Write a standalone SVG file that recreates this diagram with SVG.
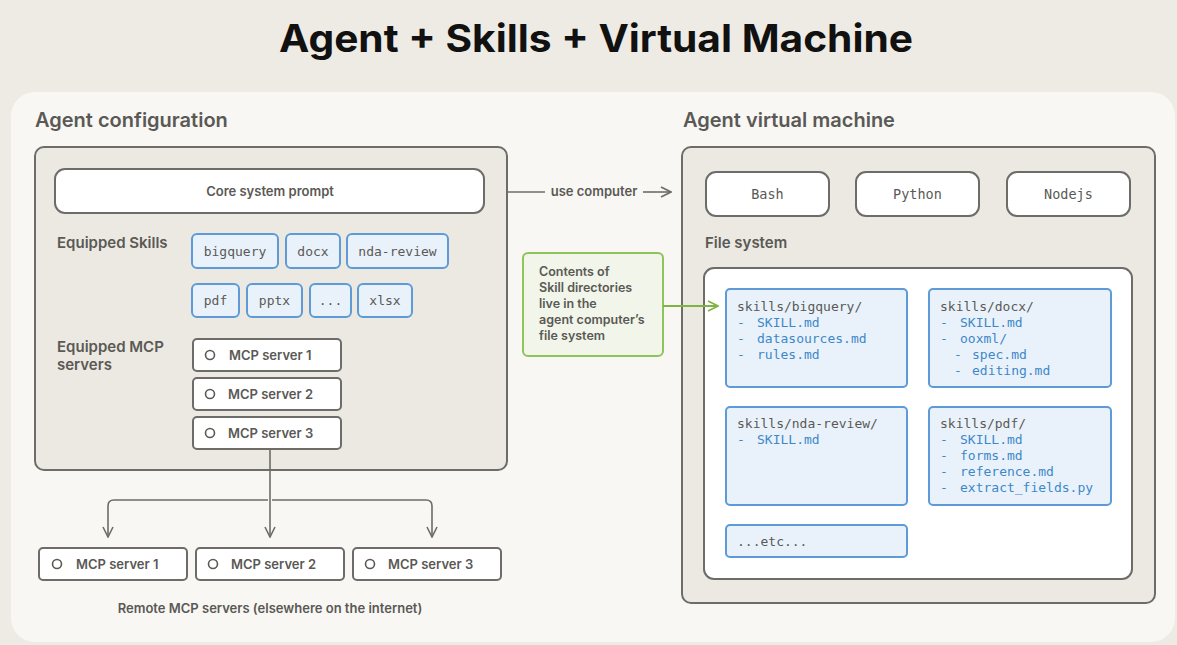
<svg xmlns="http://www.w3.org/2000/svg" width="1177" height="645" viewBox="0 0 1177 645">
<defs>
<style>
.sans{font-family:Inter,"Open Sans","Liberation Sans",sans-serif;fill:#5a5955}
.mono{font-family:"DejaVu Sans Mono","Liberation Mono",monospace;fill:#5a5955}
.gbox{fill:#ece9e2;stroke:#6d6c68;stroke-width:2}
.wbox{fill:#ffffff;stroke:#6d6c68;stroke-width:2}
.chip{fill:#e9f2fb;stroke:#5e9bd6;stroke-width:2}
.dir{fill:#e9f2fb;stroke:#5e9bd6;stroke-width:2}
.blue{fill:#3e87c9}
.conn{fill:none;stroke:#6d6c68;stroke-width:1.6}
.dot{fill:none;stroke:#5a5955;stroke-width:1.6}
</style>
<marker id="arr" viewBox="0 0 12 12" refX="11" refY="6" markerWidth="12" markerHeight="12" markerUnits="userSpaceOnUse" orient="auto">
<path d="M1,1 L11,6 L1,11" fill="none" stroke="#6d6c68" stroke-width="1.6"/>
</marker>
<marker id="arrg" viewBox="0 0 12 12" refX="11" refY="6" markerWidth="12" markerHeight="12" markerUnits="userSpaceOnUse" orient="auto">
<path d="M1,1 L11,6 L1,11" fill="none" stroke="#7fb444" stroke-width="1.8"/>
</marker>
</defs>
<rect x="0" y="0" width="1177" height="645" fill="#eeebe4"/>
<rect x="11" y="92" width="1164" height="550" rx="24" fill="#f8f7f3"/>
<text x="596" y="52" text-anchor="middle" font-family="Inter,'Liberation Sans',sans-serif" font-weight="700" font-size="38" fill="#111" textLength="634" lengthAdjust="spacingAndGlyphs">Agent + Skills + Virtual Machine</text>

<g id="agent-config">
<text class="sans" x="35" y="127" font-size="20" font-weight="600">Agent configuration</text>
<rect class="gbox" x="35" y="147" width="472" height="323" rx="9"/>
<text class="sans" x="57" y="248" font-size="15" font-weight="600">Equipped Skills</text>
<text class="sans" x="57" y="352" font-size="15" font-weight="600">Equipped MCP</text>
<text class="sans" x="57" y="370" font-size="15" font-weight="600">servers</text>
</g>
<g id="core-prompt">
<rect class="wbox" x="55" y="169" width="429" height="44" rx="10"/>
<text class="sans" x="270" y="196" font-size="13" font-weight="600" text-anchor="middle">Core system prompt</text>
</g>
<g id="skill-bigquery"><rect class="chip" x="192" y="234" width="86" height="34" rx="5"/><text class="mono" x="235" y="256" font-size="13" text-anchor="middle">bigquery</text></g>
<g id="skill-docx"><rect class="chip" x="286" y="234" width="54" height="34" rx="5"/><text class="mono" x="313" y="256" font-size="13" text-anchor="middle">docx</text></g>
<g id="skill-nda"><rect class="chip" x="347" y="234" width="101" height="34" rx="5"/><text class="mono" x="397.5" y="256" font-size="13" text-anchor="middle">nda-review</text></g>
<g id="skill-pdf"><rect class="chip" x="192" y="284" width="47" height="33" rx="5"/><text class="mono" x="215.5" y="305" font-size="13" text-anchor="middle">pdf</text></g>
<g id="skill-pptx"><rect class="chip" x="247" y="284" width="55" height="33" rx="5"/><text class="mono" x="274.5" y="305" font-size="13" text-anchor="middle">pptx</text></g>
<g id="skill-more"><rect class="chip" x="310" y="284" width="41" height="33" rx="5"/><text class="mono" x="330.5" y="305" font-size="13" text-anchor="middle">...</text></g>
<g id="skill-xlsx"><rect class="chip" x="358" y="284" width="54" height="33" rx="5"/><text class="mono" x="385" y="305" font-size="13" text-anchor="middle">xlsx</text></g>

<g id="mcp-1"><rect class="wbox" x="193" y="339" width="148" height="32" rx="4"/><circle class="dot" cx="210" cy="355" r="4.5"/><text class="sans" x="229" y="360" font-size="13" font-weight="600">MCP server 1</text></g>
<g id="mcp-2"><rect class="wbox" x="193" y="378" width="148" height="32" rx="4"/><circle class="dot" cx="210" cy="394" r="4.5"/><text class="sans" x="228" y="399" font-size="13" font-weight="600">MCP server 2</text></g>
<g id="mcp-3"><rect class="wbox" x="193" y="417" width="148" height="32" rx="4"/><circle class="dot" cx="210" cy="433" r="4.5"/><text class="sans" x="228" y="438" font-size="13" font-weight="600">MCP server 3</text></g>

<g id="remote-1"><rect class="wbox" x="39" y="548" width="148" height="32" rx="4"/><circle class="dot" cx="57" cy="564" r="4.5"/><text class="sans" x="76" y="569" font-size="13" font-weight="600">MCP server 1</text></g>
<g id="remote-2"><rect class="wbox" x="196" y="548" width="148" height="32" rx="4"/><circle class="dot" cx="213" cy="564" r="4.5"/><text class="sans" x="231" y="569" font-size="13" font-weight="600">MCP server 2</text></g>
<g id="remote-3"><rect class="wbox" x="353" y="548" width="148" height="32" rx="4"/><circle class="dot" cx="370" cy="564" r="4.5"/><text class="sans" x="388" y="569" font-size="13" font-weight="600">MCP server 3</text></g>
<text class="sans" x="270" y="613" font-size="13" font-weight="600" text-anchor="middle">Remote MCP servers (elsewhere on the internet)</text>

<g id="note">
<rect x="523" y="253" width="140" height="103" rx="5" fill="#f1f5ea" stroke="#90c45a" stroke-width="2"/>
<text class="sans" font-size="12.5" font-weight="600">
<tspan x="539" y="276">Contents of</tspan>
<tspan x="539" y="292">Skill directories</tspan>
<tspan x="539" y="308">live in the</tspan>
<tspan x="539" y="324">agent computer’s</tspan>
<tspan x="539" y="340">file system</tspan>
</text>
</g>

<g id="agent-vm">
<text class="sans" x="683" y="127" font-size="20" font-weight="600">Agent virtual machine</text>
<rect class="gbox" x="682" y="147" width="473" height="456" rx="9"/>
<text class="sans" x="705" y="248" font-size="15" font-weight="600">File system</text>
<rect class="wbox" x="704" y="268" width="428" height="311" rx="10"/>
</g>
<g id="bash"><rect class="wbox" x="706" y="172" width="123" height="44" rx="10"/><text class="mono" x="767.5" y="199" font-size="13.5" text-anchor="middle">Bash</text></g>
<g id="python"><rect class="wbox" x="856" y="172" width="123" height="44" rx="10"/><text class="mono" x="917.5" y="199" font-size="13.5" text-anchor="middle">Python</text></g>
<g id="nodejs"><rect class="wbox" x="1007" y="172" width="123" height="44" rx="10"/><text class="mono" x="1068.5" y="199" font-size="13.5" text-anchor="middle">Nodejs</text></g>

<g id="dir-bigquery">
<rect class="dir" x="726" y="289" width="181" height="98" rx="4"/>
<text class="mono" font-size="13">
<tspan x="737" y="311">skills/bigquery/</tspan>
<tspan class="blue" x="737" y="327">-</tspan><tspan class="blue" x="757" y="327">SKILL.md</tspan>
<tspan class="blue" x="737" y="343">-</tspan><tspan class="blue" x="757" y="343">datasources.md</tspan>
<tspan class="blue" x="737" y="359">-</tspan><tspan class="blue" x="757" y="359">rules.md</tspan>
</text>
</g>
<g id="dir-docx">
<rect class="dir" x="929" y="289" width="182" height="98" rx="4"/>
<text class="mono" font-size="13">
<tspan x="940" y="311">skills/docx/</tspan>
<tspan class="blue" x="940" y="327">-</tspan><tspan class="blue" x="960" y="327">SKILL.md</tspan>
<tspan class="blue" x="940" y="343">-</tspan><tspan class="blue" x="960" y="343">ooxml/</tspan>
<tspan class="blue" x="954" y="359">-</tspan><tspan class="blue" x="972" y="359">spec.md</tspan>
<tspan class="blue" x="954" y="375">-</tspan><tspan class="blue" x="972" y="375">editing.md</tspan>
</text>
</g>
<g id="dir-nda">
<rect class="dir" x="726" y="407" width="181" height="98" rx="4"/>
<text class="mono" font-size="13">
<tspan x="737" y="428">skills/nda-review/</tspan>
<tspan class="blue" x="737" y="444">-</tspan><tspan class="blue" x="757" y="444">SKILL.md</tspan>
</text>
</g>
<g id="dir-pdf">
<rect class="dir" x="929" y="407" width="182" height="98" rx="4"/>
<text class="mono" font-size="13">
<tspan x="940" y="428">skills/pdf/</tspan>
<tspan class="blue" x="940" y="444">-</tspan><tspan class="blue" x="960" y="444">SKILL.md</tspan>
<tspan class="blue" x="940" y="460">-</tspan><tspan class="blue" x="960" y="460">forms.md</tspan>
<tspan class="blue" x="940" y="476">-</tspan><tspan class="blue" x="960" y="476">reference.md</tspan>
<tspan class="blue" x="940" y="492">-</tspan><tspan class="blue" x="960" y="492">extract_fields.py</tspan>
</text>
</g>
<g id="dir-etc">
<rect class="dir" x="726" y="525" width="181" height="32" rx="4"/>
<text class="mono" x="737" y="546" font-size="13">...etc...</text>
</g>

<g id="connectors">
<line class="conn" x1="508" y1="192" x2="545" y2="192"/>
<text class="sans" x="594" y="196" font-size="13" font-weight="600" text-anchor="middle">use computer</text>
<line class="conn" x1="643" y1="192" x2="671" y2="192" marker-end="url(#arr)"/>
<line x1="663" y1="306" x2="718" y2="306" stroke="#7fb444" stroke-width="1.8" marker-end="url(#arrg)"/>
<path class="conn" d="M270,449 V537" marker-end="url(#arr)"/>
<path class="conn" d="M268,500 H114 Q108,500 108,506 V537" marker-end="url(#arr)"/>
<path class="conn" d="M272,500 H426 Q432,500 432,506 V537" marker-end="url(#arr)"/>
</g>
</svg>
